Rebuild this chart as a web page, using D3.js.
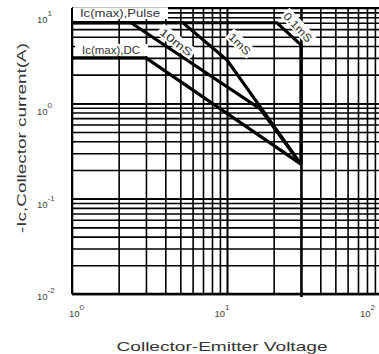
<!DOCTYPE html>
<html><head><meta charset="utf-8">
<script src="https://cdn.jsdelivr.net/npm/d3@7/dist/d3.min.js"></script>
<style>
body{margin:0;background:#fff}
svg{display:block}
text{font-family:"Liberation Sans",Arial,Helvetica,sans-serif}
</style>
</head><body>
<svg id="c" width="379" height="354"></svg>
<script>
// ---- data ----
const xDomain = [1, 100];
const yDomain = [0.01, 10];
const xTickValues = [1, 10, 100];
const xTickExp = ["0", "1", "2"];
const yTickValues = [10, 1, 0.1, 0.01];
const yTickExp = ["1", "0", "-1", "-2"];

const curveDC    = [[1, 3], [3, 3], [30, 0.23]];
const curve10ms  = [[1, 7], [2.4, 7], [16.3, 0.88], [30, 0.23]];
const curve1ms   = [[1, 7], [5.2, 7], [10, 2.85], [30, 0.23]];
const curve01ms  = [[1, 7], [21, 7], [30, 4.1], [30, 0.23]];

const curveLabelText  = ["10mS", "1mS", "0.1mS"];
const curveLabelAt    = [[4.7, 4.4], [12.1, 4.2], [28.7, 6.3]];
const curveLabelAngle = [38, 44, 47];
const curveLabelLen   = [38, 26, 36];

const limitLabelText = ["Ic(max),Pulse", "Ic(max),DC"];
const limitLabelAt   = [[1.126, 8.0], [1.16, 3.3]];
const limitLabelLen  = [80, 58];

const xTitle = "Collector-Emitter Voltage";
const yTitle = "-Ic,Collector current(A)";

// ---- drawing ----
const W = 379, H = 354;
const m = {left: 72, top: 8, right: 382, bottom: 294};
const svg = d3.select("#c");

const x = d3.scaleLog().domain(xDomain).range([m.left, m.right]);
const y = d3.scaleLog().domain(yDomain).range([m.bottom, m.top]);

// grid values
const xGrid = [];
for (let d = 1; d < 100; d *= 10) for (let k = 1; k <= 10; k++) xGrid.push(d * k);
const yGrid = [];
for (let d = 0.01; d < 10; d *= 10) for (let k = 1; k <= 10; k++) yGrid.push(+(d * k).toPrecision(3));

const g = svg.append("g");

// horizontal grid via axis
g.append("g")
  .attr("transform", `translate(${m.left},0)`)
  .call(d3.axisRight(y).tickValues(yGrid).tickSize(m.right - m.left).tickFormat(""))
  .call(s => s.select(".domain").remove())
  .call(s => s.selectAll("line").attr("stroke", "#000").attr("stroke-width", 1.6));

// vertical grid via axis
g.append("g")
  .attr("transform", `translate(0,${m.top})`)
  .call(d3.axisBottom(x).tickValues(xGrid).tickSize(m.bottom - m.top).tickFormat(""))
  .call(s => s.select(".domain").remove())
  .call(s => s.selectAll("line")
      .attr("stroke", "#000")
      .attr("stroke-width", d => (d === 30 ? 2.6 : 1.6))
      .attr("y2", d => (d === 30 ? m.bottom - m.top + 3 : m.bottom - m.top)));

// frame
g.append("line").attr("x1", m.left).attr("x2", m.right).attr("y1", m.bottom).attr("y2", m.bottom)
  .attr("stroke", "#000").attr("stroke-width", 2.4);
g.append("line").attr("x1", m.left).attr("x2", m.left).attr("y1", m.top).attr("y2", m.bottom)
  .attr("stroke", "#000").attr("stroke-width", 2);
g.append("line").attr("x1", m.left).attr("x2", m.right).attr("y1", m.top).attr("y2", m.top)
  .attr("stroke", "#000").attr("stroke-width", 2);

// curves
const line = d3.line().x(d => x(d[0])).y(d => y(d[1]));
[curveDC, curve10ms, curve1ms, curve01ms].forEach(c => {
  g.append("path").attr("d", line(c)).attr("fill", "none")
    .attr("stroke", "#000").attr("stroke-width", 3.2).attr("stroke-linejoin", "miter");
});

// limit labels with white boxes
limitLabelText.forEach((t, i) => {
  const px = x(limitLabelAt[i][0]), py = y(limitLabelAt[i][1]);
  g.append("rect").attr("x", px - 7).attr("y", py - 10)
    .attr("width", limitLabelLen[i] + 15).attr("height", 12).attr("fill", "#fff");
  g.append("text").attr("x", px).attr("y", py)
    .attr("font-size", 10.5).attr("fill", "#333")
    .attr("textLength", limitLabelLen[i]).attr("lengthAdjust", "spacingAndGlyphs")
    .text(t);
});

// curve labels rotated with white boxes
curveLabelText.forEach((t, i) => {
  const px = x(curveLabelAt[i][0]), py = y(curveLabelAt[i][1]);
  const lg = g.append("g").attr("transform", `translate(${px},${py}) rotate(${curveLabelAngle[i]})`);
  lg.append("rect").attr("x", -curveLabelLen[i] / 2 - 2).attr("y", -7)
    .attr("width", curveLabelLen[i] + 4).attr("height", 13).attr("fill", "#fff");
  lg.append("text").attr("x", 0).attr("y", 4).attr("text-anchor", "middle")
    .attr("font-size", 11).attr("fill", "#333")
    .attr("textLength", curveLabelLen[i]).attr("lengthAdjust", "spacingAndGlyphs")
    .text(t);
});

// tick labels (label positions through their own scales)
const xLab = d3.scaleLog().domain(xDomain).range([79, 370]);
const yLab = d3.scaleLog().domain(yDomain).range([300, 23]);
xTickValues.forEach((v, i) => {
  const t = svg.append("text").attr("x", xLab(v) - 10).attr("y", 317)
    .attr("font-size", 9.5).attr("fill", "#444");
  t.append("tspan").text("10");
  t.append("tspan").attr("dy", -7).attr("font-size", 8).text(xTickExp[i]);
});
yTickValues.forEach((v, i) => {
  const t = svg.append("text").attr("x", 37).attr("y", yLab(v))
    .attr("font-size", 9.5).attr("fill", "#444");
  t.append("tspan").text("10");
  t.append("tspan").attr("dy", -7).attr("font-size", 8).text(yTickExp[i]);
});

// axis titles
svg.append("text").attr("x", 222).attr("y", 351).attr("text-anchor", "middle")
  .attr("font-size", 13.5).attr("fill", "#333")
  .attr("textLength", 211).attr("lengthAdjust", "spacingAndGlyphs")
  .text(xTitle);
svg.append("text").attr("transform", "translate(26,138) rotate(-90)").attr("text-anchor", "middle")
  .attr("font-size", 13.5).attr("fill", "#333")
  .attr("textLength", 190).attr("lengthAdjust", "spacingAndGlyphs")
  .text(yTitle);
</script>
</body></html>
